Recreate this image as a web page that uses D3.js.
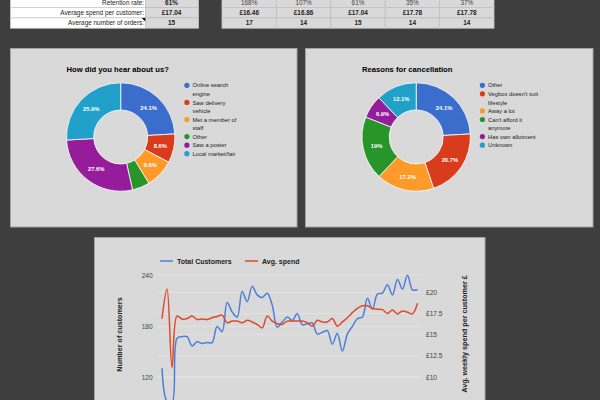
<!DOCTYPE html>
<html><head><meta charset="utf-8">
<script src="https://cdn.jsdelivr.net/npm/d3@7"></script>
<style>
body{margin:0;background:#3e3e3e;overflow:hidden;}
svg{display:block;font-family:"Liberation Sans",Arial,sans-serif;}
</style>
</head><body>
<svg id="c" width="600" height="400"></svg>
<script>
// ---------- DATA ----------
const tableLabels = ["Retention rate:", "Average spend per customer:", "Average number of orders:"];
const summaryValues = ["61%", "£17.04", "15"];
const retentionRow = ["168%", "107%", "61%", "35%", "37%"];
const spendRow = ["£16.46", "£16.86", "£17.04", "£17.78", "£17.78"];
const ordersRow = ["17", "14", "15", "14", "14"];

const hearCategories = ["Online search engine", "Saw delivery vehicle", "Met a member of staff", "Other", "Saw a poster", "Local market/fair"];
const hearValues = [24.1, 8.6, 8.6, 5.2, 27.6, 25.9];

const cancelCategories = ["Other", "Vegbox doesn't suit lifestyle", "Away a lot", "Can't afford it anymore", "Has own allotment", "Unknown"];
const cancelValues = [24.1, 20.7, 17.2, 19, 6.9, 12.1];

const sliceColors = ["#3a6dcc", "#d93c1c", "#fd9a2a", "#28952a", "#951d9b", "#21a0c9"];

const weeks = [1,2,3,4,5,6,7,8,9,10,11,12,13,14,15,16,17,18,19,20,21,22,23,24,25,26,
  27,28,29,30,31,32,33,34,35,36,37,38,39,40,41,42,43,44,45,46,47,48,49,50,51,52];
const totalCustomers = [131, 92, 90, 166, 168, 168, 157, 162, 160, 161, 161, 180, 174, 208, 197, 191,
  221, 209, 227, 217, 214, 219, 205, 179, 185, 191, 187, 195, 182, 183, 184, 171, 173, 175, 159, 172,
  151, 171, 180, 189, 191, 213, 200, 218, 219, 229, 217, 235, 224, 240, 223, 223];
const avgSpend = [16.9, 20.4, 11.1, 17.2, 16.85, 16.9, 17.2, 16.8, 16.85, 16.8, 17.0, 17.15, 17.3, 16.4,
  16.6, 16.6, 16.4, 16.7, 16.5, 16.2, 15.8, 17.2, 16.6, 16.3, 16.2, 16.6, 16.6, 16.6, 16.6, 16.4, 16.0,
  16.7, 16.5, 16.5, 16.9, 16.0, 16.5, 17.0, 17.6, 18.1, 18.4, 18.4, 18.1, 18.0, 17.95, 17.5, 17.9, 17.45,
  17.8, 17.65, 17.45, 18.7];
const leftTicks = [120, 180, 240];
const rightTicks = [10, 12.5, 15, 17.5, 20];
const seriesNames = ["Total Customers", "Avg. spend"];
const seriesColors = ["#4d7fd8", "#df4a2c"];

// ---------- DRAW ----------
const svg = d3.select("#c");
const FONT = '"Liberation Sans",Arial,sans-serif';

// ---- tables ----
const rowTops = [-2.7, 7.6, 17.9];
const rowH = 10.3;
const lt = svg.append("g");
tableLabels.forEach((lab, i) => {
  lt.append("rect").attr("x", 10.5).attr("y", rowTops[i]).attr("width", 135).attr("height", rowH)
    .attr("fill", "#fff").attr("stroke", "#cfcfcf").attr("stroke-width", 0.8);
  lt.append("rect").attr("x", 145.5).attr("y", rowTops[i]).attr("width", 53).attr("height", rowH)
    .attr("fill", "#d9d9d9").attr("stroke", "#c2c2c2").attr("stroke-width", 0.8);
  lt.append("text").attr("x", 144).attr("y", rowTops[i] + rowH / 2 + 2.2).attr("text-anchor", "end")
    .attr("font-size", 6.4).attr("fill", "#222").text(lab);
  lt.append("text").attr("x", 171.5).attr("y", rowTops[i] + rowH / 2 + 2.2).attr("text-anchor", "middle")
    .attr("font-size", 6.4).attr("font-weight", "bold").attr("fill", "#222").text(summaryValues[i]);
});
// comment marker
lt.append("path").attr("d", "M141.8,17.9 L145.3,17.9 L145.3,21.4 Z").attr("fill", "#000");

const rightRows = [retentionRow, spendRow, ordersRow];
const colX = d3.scaleBand().domain(d3.range(retentionRow.length)).range([222, 494]);
const rt = svg.append("g");
rightRows.forEach((row, r) => {
  row.forEach((v, c) => {
    rt.append("rect").attr("x", colX(c)).attr("y", rowTops[r]).attr("width", colX.bandwidth()).attr("height", rowH)
      .attr("fill", "#d9d9d9").attr("stroke", "#c4c4c4").attr("stroke-width", 0.8);
    rt.append("text").attr("x", colX(c) + colX.bandwidth() / 2).attr("y", rowTops[r] + rowH / 2 + 2.2)
      .attr("text-anchor", "middle").attr("font-size", 6.4)
      .attr("font-weight", r === 0 ? "normal" : "bold").attr("fill", r === 0 ? "#444" : "#222").text(v);
  });
});

// ---- donut panels ----
function wrapLines(text, maxW, size) {
  const tmp = svg.append("text").attr("font-size", size).attr("visibility", "hidden");
  const words = text.split(" ");
  const lines = [];
  let cur = "";
  words.forEach(w => {
    const test = cur ? cur + " " + w : w;
    tmp.text(test);
    if (tmp.node().getComputedTextLength() > maxW && cur) { lines.push(cur); cur = w; }
    else cur = test;
  });
  if (cur) lines.push(cur);
  tmp.remove();
  return lines;
}
function fmtPct(v) {
  const s = v.toFixed(1);
  return (s.endsWith(".0") ? s.slice(0, -2) : s) + "%";
}
function donutPanel(px, pw, cx, title, cats, vals) {
  const g = svg.append("g");
  g.append("rect").attr("x", px).attr("y", 48.5).attr("width", pw).attr("height", 178.5)
    .attr("fill", "#d9d9d9").attr("stroke", "#a3a3a3").attr("stroke-width", 1);
  const cy = 137, R = 54.2, r0 = 27;
  g.append("text").attr("x", cx - R).attr("y", 72.2).attr("font-size", 7.65).attr("font-weight", "bold")
    .attr("fill", "#000").text(title);
  const pie = d3.pie().sort(null).value(d => d)(vals);
  const arc = d3.arc().innerRadius(r0).outerRadius(R);
  const lab = d3.arc().innerRadius((R + r0) / 2).outerRadius((R + r0) / 2);
  const dg = g.append("g").attr("transform", `translate(${cx},${cy})`);
  dg.selectAll("path").data(pie).join("path").attr("d", arc)
    .attr("fill", (d, i) => sliceColors[i]).attr("stroke", "#fff").attr("stroke-width", 0.8);
  dg.selectAll("text").data(pie.filter(d => d.data >= 6)).join("text")
    .attr("transform", d => `translate(${lab.centroid(d)})`)
    .attr("text-anchor", "middle").attr("dy", "0.35em")
    .attr("font-size", 5.8).attr("font-weight", "bold").attr("fill", "#fff")
    .text(d => fmtPct(d.data));
  // legend
  let y = 85.3;
  const lh = 8.55;
  cats.forEach((c, i) => {
    g.append("circle").attr("cx", cx + 66.2).attr("cy", y).attr("r", 2.6).attr("fill", sliceColors[i]);
    const lines = wrapLines(c, 51.5, 5.8);
    lines.forEach((ln, k) => {
      g.append("text").attr("x", cx + 71.8).attr("y", y + k * lh + 2.1).attr("font-size", 5.8)
        .attr("fill", "#222").text(ln);
    });
    y += lines.length * lh;
  });
}
donutPanel(10.5, 286.5, 120.7, "How did you hear about us?", hearCategories, hearValues);
donutPanel(305.5, 287.5, 416.2, "Reasons for cancellation", cancelCategories, cancelValues);

// ---- line chart panel ----
const lg = svg.append("g");
lg.append("rect").attr("x", 94.5).attr("y", 237.5).attr("width", 390.5).attr("height", 200)
  .attr("fill", "#d9d9d9").attr("stroke", "#a3a3a3").attr("stroke-width", 1);

const x = d3.scalePoint().domain(weeks).range([159.5, 420]).padding(0.5);
const yL = d3.scaleLinear().domain([120, 240]).range([377.5, 275.3]);
const yR = d3.scaleLinear().domain([10, 20]).range([377, 292.3]);

// gridlines
const gridYs = leftTicks.map(yL).concat(rightTicks.map(yR));
lg.append("g").selectAll("line").data(gridYs).join("line")
  .attr("x1", 158).attr("x2", 421).attr("y1", d => d).attr("y2", d => d)
  .attr("stroke", "#e6e6e6").attr("stroke-width", 0.8);

// axes
const axL = lg.append("g").attr("transform", "translate(152.7,0)")
  .call(d3.axisLeft(yL).tickValues(leftTicks).tickSize(0).tickPadding(0));
const axR = lg.append("g").attr("transform", "translate(426,0)")
  .call(d3.axisRight(yR).tickValues(rightTicks).tickSize(0).tickPadding(0)
    .tickFormat(d => "£" + d3.format("~g")(d)));
[axL, axR].forEach(a => {
  a.select(".domain").remove();
  a.selectAll("text").attr("font-size", 6.6).attr("fill", "#444").attr("font-family", FONT);
});

// lines
const curve = d3.curveCatmullRom.alpha(0.5);
const lineL = d3.line().x((d, i) => x(weeks[i])).y(d => yL(d)).curve(curve);
const lineR = d3.line().x((d, i) => x(weeks[i])).y(d => yR(d)).curve(curve);
lg.append("path").attr("d", lineL(totalCustomers)).attr("fill", "none")
  .attr("stroke", seriesColors[0]).attr("stroke-width", 1.5);
lg.append("path").attr("d", lineR(avgSpend)).attr("fill", "none")
  .attr("stroke", seriesColors[1]).attr("stroke-width", 1.5);

// axis titles
lg.append("text").attr("transform", "translate(121.8,334.5) rotate(-90)").attr("text-anchor", "middle")
  .attr("font-size", 7.2).attr("font-weight", "bold").attr("fill", "#222").text("Number of customers");
lg.append("text").attr("transform", "translate(466.5,334) rotate(-90)").attr("text-anchor", "middle")
  .attr("font-size", 7.2).attr("font-weight", "bold").attr("fill", "#222").text("Avg. weekly spend per customer £");

// legend
const legX = [160, 245];
seriesNames.forEach((n, i) => {
  lg.append("line").attr("x1", legX[i]).attr("x2", legX[i] + 13).attr("y1", 261).attr("y2", 261)
    .attr("stroke", seriesColors[i]).attr("stroke-width", 1.5);
  lg.append("text").attr("x", legX[i] + 17).attr("y", 263.5).attr("font-size", 7).attr("font-weight", "bold")
    .attr("fill", "#222").text(n);
});
</script>
</body></html>
